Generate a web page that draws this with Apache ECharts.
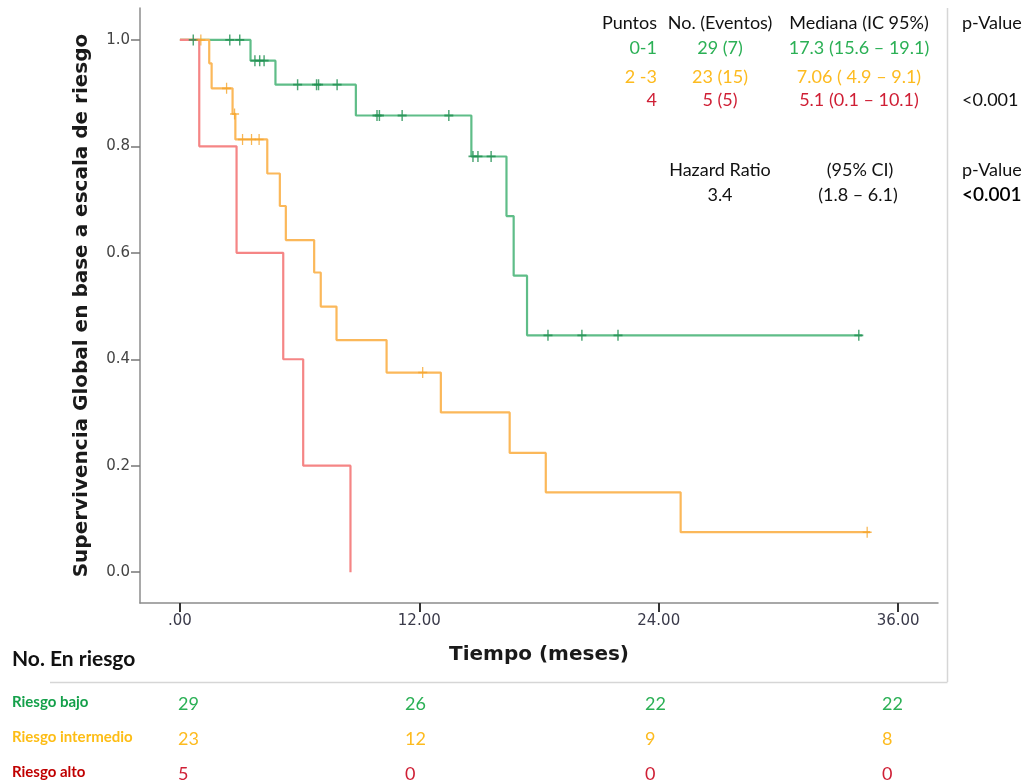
<!DOCTYPE html>
<html>
<head>
<meta charset="utf-8">
<script src="https://cdn.jsdelivr.net/npm/echarts@6/dist/echarts.min.js"></script>
<style>
  html, body { margin: 0; padding: 0; background: #ffffff; }
  #chart { width: 1025px; height: 784px; }
</style>
</head>
<body>
<div id="chart"></div>
<script>
// ---- Data ----
// Kaplan-Meier step curves: time in months, survival proportion
const lowRiskTimes = [0, 3.54, 4.79, 8.82, 14.61, 16.37, 16.73, 17.40, 34.2];
const lowRiskSurv  = [1.0, 0.961, 0.916, 0.858, 0.781, 0.669, 0.557, 0.445, 0.445];
const lowRiskCensored = [0.67, 2.5, 3.0, 3.76, 4.0, 4.22, 5.9, 6.85, 6.95, 7.88, 9.88, 10.0, 11.14, 13.48, 14.69, 14.94, 15.6, 18.45, 20.15, 21.96, 34.03];

const midRiskTimes = [0, 1.47, 1.59, 2.64, 2.78, 4.38, 5.01, 5.31, 6.73, 7.06, 7.85, 10.36, 13.08, 16.53, 18.34, 25.1, 34.6];
const midRiskSurv  = [1.0, 0.956, 0.909, 0.861, 0.813, 0.749, 0.688, 0.624, 0.563, 0.499, 0.436, 0.375, 0.300, 0.224, 0.150, 0.075, 0.075];
const midRiskCensored = [1.05, 2.34, 2.74, 3.14, 3.59, 3.97, 12.17, 34.45];

const highRiskTimes = [0, 0.97, 2.84, 5.18, 6.18, 8.55];
const highRiskSurv  = [1.0, 0.8, 0.6, 0.4, 0.2, 0.0];

// Axis ticks
const xTickValues = [0, 12, 24, 36];
const xTickLabels = ['.00', '12.00', '24.00', '36.00'];
const yTickValues = [0, 0.2, 0.4, 0.6, 0.8, 1.0];
const yTickLabels = ['0.0', '0.2', '0.4', '0.6', '0.8', '1.0'];

// Numbers at risk
const riskRowNames = ['Riesgo bajo', 'Riesgo intermedio', 'Riesgo alto'];
const riskLow  = [29, 26, 22, 22];
const riskMid  = [23, 12, 9, 8];
const riskHigh = [5, 0, 0, 0];

// Summary table text
const legendHeader = ['Puntos', 'No. (Eventos)', 'Mediana (IC 95%)', 'p-Value'];
const legendPoints = ['0-1', '2 -3', '4'];
const legendEvents = ['29 (7)', '23 (15)', '5 (5)'];
const legendMedian = ['17.3 (15.6 \u2013 19.1)', '7.06 ( 4.9 \u2013 9.1)', '5.1 (0.1 \u2013 10.1)'];
const legendPValue = '<0.001';
const hazardHeader = ['Hazard Ratio', '(95% CI)', 'p-Value'];
const hazardValues = ['3.4', '(1.8 \u2013 6.1)', '<0.001'];

// ---- Styles ----
const GREEN_LINE = '#5fbd88', GREEN_MARK = '#1f8f50', GREEN_TEXT = '#2bb055';
const ORANGE_LINE = '#fbb85a', ORANGE_MARK = '#f5a52a', ORANGE_TEXT = '#fdbb1f';
const RED_LINE = '#f58585', RED_TEXT = '#cf1f35';

function pairs(t, s) { return t.map((v, i) => [v, s[i]]); }
function survAt(t, times, surv) {
  let v = surv[0];
  for (let i = 0; i < times.length; i++) { if (times[i] <= t) v = surv[i]; }
  return v;
}
function censorPts(cs, times, surv) { return cs.map(c => [c, survAt(c, times, surv)]); }

const crossPath = 'path://M0,5L10,5M5,0L5,10';

const LEG_FONT = 'Lato, "Open Sans", sans-serif';
const TABLE_FONT = 'Lato, "Open Sans", sans-serif';

function txt(x, y, text, color, size, align, weight, family) {
  return {
    type: 'text', x: x, y: y, silent: true,
    style: {
      text: text, fill: color, fontSize: size, fontFamily: family || LEG_FONT,
      fontWeight: weight || 'normal', align: align || 'center', verticalAlign: 'middle'
    }
  };
}
function hline(x1, x2, y, color, w) {
  return { type: 'line', silent: true, shape: { x1: x1, y1: y, x2: x2, y2: y }, style: { stroke: color, lineWidth: w || 1 } };
}
function vline(x, y1, y2, color, w) {
  return { type: 'line', silent: true, shape: { x1: x, y1: y1, x2: x, y2: y2 }, style: { stroke: color, lineWidth: w || 1 } };
}

const graphics = [];
// frame lines
graphics.push(vline(947.5, 8, 682, '#d6d6d6', 1.5));
graphics.push(hline(50, 947.5, 682.5, '#d6d6d6', 1.5));

// Summary table
const colPts = 657, colEv = 720, colMed = 859, colP = 962;
const rowY = [23, 48, 77, 100];
graphics.push(txt(colPts, rowY[0], legendHeader[0], '#111', 18, 'right'));
graphics.push(txt(colEv, rowY[0], legendHeader[1], '#111', 18, 'center'));
graphics.push(txt(colMed, rowY[0], legendHeader[2], '#111', 18, 'center'));
graphics.push(txt(colP, rowY[0], legendHeader[3], '#111', 18, 'left'));
const legColors = [GREEN_TEXT, ORANGE_TEXT, RED_TEXT];
for (let i = 0; i < 3; i++) {
  graphics.push(txt(colPts, rowY[i + 1], legendPoints[i], legColors[i], 18, 'right'));
  graphics.push(txt(colEv, rowY[i + 1], legendEvents[i], legColors[i], 18, 'center'));
  graphics.push(txt(colMed, rowY[i + 1], legendMedian[i], legColors[i], 18, 'center'));
}
graphics.push(txt(colP, rowY[3], legendPValue, '#111', 18, 'left'));
graphics.push(txt(720, 170, hazardHeader[0], '#111', 18, 'center'));
graphics.push(txt(860, 170, hazardHeader[1], '#111', 18, 'center'));
graphics.push(txt(colP, 170, hazardHeader[2], '#111', 18, 'left'));
graphics.push(txt(720, 195, hazardValues[0], '#111', 18, 'center'));
graphics.push(txt(858, 195, hazardValues[1], '#111', 18, 'center'));
graphics.push(txt(colP, 195, hazardValues[2], '#000', 19, 'left', '600'));

// Numbers at risk table
graphics.push(txt(12, 659, 'No. En riesgo', '#111', 21, 'left', 'bold', TABLE_FONT));
const rowColors = ['#14a04a', '#fdbd15', '#c00000'];
const numColors = [GREEN_TEXT, ORANGE_TEXT, RED_TEXT];
const riskRows = [riskLow, riskMid, riskHigh];
const riskY = [703, 738, 773];
const riskX = [178, 405, 645, 882];
for (let r = 0; r < 3; r++) {
  graphics.push(txt(12, riskY[r] - 1, riskRowNames[r], rowColors[r], 15, 'left', 'bold', TABLE_FONT));
  for (let c = 0; c < 4; c++) {
    graphics.push(txt(riskX[c], riskY[r] + 1, String(riskRows[r][c]), numColors[r], 18, 'left', 'normal', TABLE_FONT));
  }
}

const chart = echarts.init(document.getElementById('chart'), null, { renderer: 'canvas' });
chart.setOption({
  animation: false,
  backgroundColor: '#ffffff',
  grid: { left: 140, right: 87, top: 8, bottom: 181, containLabel: false },
  xAxis: {
    type: 'value', min: -2, max: 38,
    name: 'Tiempo (meses)', nameLocation: 'middle', nameGap: 42,
    nameTextStyle: { fontFamily: '"DejaVu Sans", sans-serif', fontWeight: 'bold', fontSize: 20, color: '#1a1a1a' },
    axisLine: { show: true, onZero: false, lineStyle: { color: '#8c8c8c', width: 1.5 } },
    axisTick: { show: true, customValues: xTickValues, length: 9, lineStyle: { color: '#333', width: 2 } },
    axisLabel: {
      show: true, customValues: xTickValues, margin: 11,
      formatter: v => xTickLabels[xTickValues.indexOf(v)] ?? '',
      fontFamily: '"DejaVu Sans", sans-serif', fontSize: 15, color: '#3a3a4a'
    },
    splitLine: { show: false }
  },
  yAxis: {
    type: 'value', min: -0.058, max: 1.06,
    name: 'Supervivencia Global en base a escala de riesgo', nameLocation: 'middle', nameGap: 48,
    nameRotate: 90,
    nameTextStyle: { fontFamily: '"DejaVu Sans", sans-serif', fontWeight: 'bold', fontSize: 20, color: '#1a1a1a' },
    axisLine: { show: true, onZero: false, lineStyle: { color: '#8c8c8c', width: 1.5 } },
    axisTick: { show: true, customValues: yTickValues, length: 9, lineStyle: { color: '#777', width: 1.5 } },
    axisLabel: {
      show: true, customValues: yTickValues, margin: 10,
      formatter: v => { const i = yTickValues.findIndex(t => Math.abs(t - v) < 1e-9); return i >= 0 ? yTickLabels[i] : ''; },
      fontFamily: '"DejaVu Sans", sans-serif', fontSize: 15, color: '#444'
    },
    splitLine: { show: false }
  },
  series: [
    { type: 'line', name: 'Riesgo bajo', step: 'end', data: pairs(lowRiskTimes, lowRiskSurv), showSymbol: false, symbol: 'none',
      lineStyle: { color: GREEN_LINE, width: 2.2 }, z: 2 },
    { type: 'line', name: 'Riesgo intermedio', step: 'end', data: pairs(midRiskTimes, midRiskSurv), showSymbol: false, symbol: 'none',
      lineStyle: { color: ORANGE_LINE, width: 2.2 }, z: 3 },
    { type: 'line', name: 'Riesgo alto', step: 'end', data: pairs(highRiskTimes, highRiskSurv), showSymbol: false, symbol: 'none',
      lineStyle: { color: RED_LINE, width: 2.2 }, z: 4 },
    { type: 'scatter', data: censorPts(lowRiskCensored, lowRiskTimes, lowRiskSurv), symbol: crossPath, symbolSize: [9, 11],
      itemStyle: { color: 'rgba(0,0,0,0)', borderColor: GREEN_MARK, borderWidth: 1.6 }, z: 5 },
    { type: 'scatter', data: censorPts(midRiskCensored, midRiskTimes, midRiskSurv), symbol: crossPath, symbolSize: [9, 11],
      itemStyle: { color: 'rgba(0,0,0,0)', borderColor: ORANGE_MARK, borderWidth: 1.4 }, z: 5 }
  ],
  graphic: graphics
});
</script>
</body>
</html>
